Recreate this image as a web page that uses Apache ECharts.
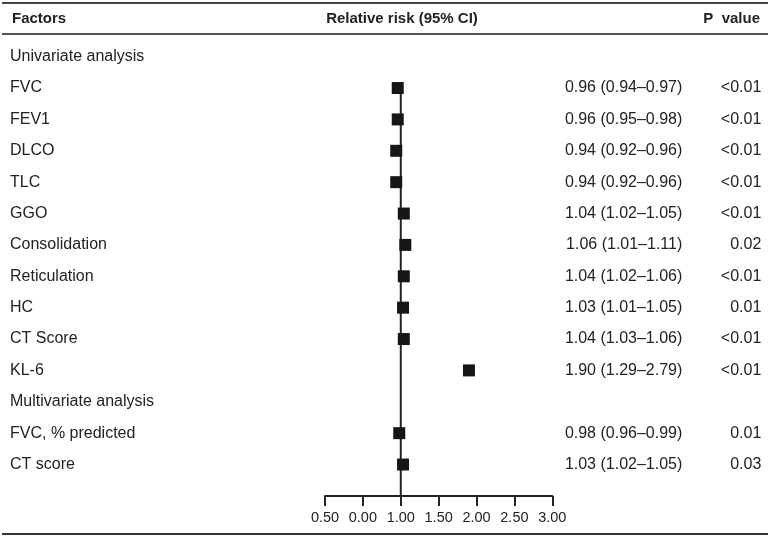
<!DOCTYPE html>
<html>
<head>
<meta charset="utf-8">
<script src="https://cdn.jsdelivr.net/npm/echarts@6/dist/echarts.min.js"></script>
<style>html,body{margin:0;padding:0;background:#fff}#c{width:768px;height:536px}</style>
</head>
<body>
<div id="c"></div>
<script>
var factors = ['Univariate analysis','FVC','FEV1','DLCO','TLC','GGO','Consolidation','Reticulation','HC','CT Score','KL-6','Multivariate analysis','FVC, % predicted','CT score'];
var rr = [null,0.96,0.96,0.94,0.94,1.04,1.06,1.04,1.03,1.04,1.90,null,0.98,1.03];
var ciLow = [null,0.94,0.95,0.92,0.92,1.02,1.01,1.02,1.01,1.03,1.29,null,0.96,1.02];
var ciHigh = [null,0.97,0.98,0.96,0.96,1.05,1.11,1.06,1.05,1.06,2.79,null,0.99,1.05];
var pValues = ['','<0.01','<0.01','<0.01','<0.01','<0.01','0.02','<0.01','0.01','<0.01','<0.01','','0.01','0.03'];
var xTickLabels = ['0.50','0.00','1.00','1.50','2.00','2.50','3.00'];
var refValue = 1;

var ciText = rr.map(function(v,i){
  return v == null ? '' : v.toFixed(2) + ' (' + ciLow[i].toFixed(2) + '\u2013' + ciHigh[i].toFixed(2) + ')';
});
var pts = [];
rr.forEach(function(v,i){ if(v != null) pts.push([v,i]); });
var firstRow = 1, lastRow = factors.length; // line runs down to the axis

var font = 'Liberation Sans, Arial, sans-serif';
var txt = '#222';
function rowFmt(arr){ return function(v){ var i = Math.round(v); return (i>=0 && i<arr.length) ? arr[i] : ''; }; }
function yAx(extra){
  var o = {type:'value', inverse:true, min:-1, max:factors.length, interval:1,
    axisLine:{show:false}, axisTick:{show:false}, splitLine:{show:false},
    axisLabel:{show:true, fontSize:16, fontFamily:font, color:txt}};
  for (var k in extra){ if(k==='axisLabel'){ for (var j in extra.axisLabel) o.axisLabel[j]=extra.axisLabel[j]; } else o[k]=extra[k]; }
  return o;
}
var chart = echarts.init(document.getElementById('c'));
chart.setOption({
  animation:false,
  grid:{left:325, width:227.3, top:25.3, height:470.6},
  xAxis:{type:'value', min:0, max:3, interval:0.5, position:'bottom',
    axisLine:{show:true, onZero:false, lineStyle:{color:'#222', width:2}},
    axisTick:{show:true, length:10, lineStyle:{color:'#222', width:2}},
    splitLine:{show:false},
    axisLabel:{fontSize:14.5, fontFamily:font, color:txt, margin:15,
      formatter:function(v){ return xTickLabels[Math.round(v/0.5)]; }}},
  yAxis:[
    yAx({position:'left', axisLabel:{align:'left', margin:315, formatter:rowFmt(factors)}}),
    yAx({position:'right', axisLabel:{align:'right', margin:130, formatter:rowFmt(ciText)}}),
    yAx({position:'right', axisLabel:{align:'right', margin:209, formatter:rowFmt(pValues)}})
  ],
  series:[
    {type:'line', data:[[refValue,firstRow],[refValue,lastRow]], symbol:'none',
     lineStyle:{color:'#222', width:2}, z:1},
    {type:'scatter', data:pts, symbol:'rect', symbolSize:12,
     itemStyle:{color:'#161616', opacity:1}, z:3}
  ],
  graphic:[
    {type:'line', shape:{x1:2,y1:3,x2:768,y2:3}, style:{stroke:'#444', lineWidth:2}},
    {type:'line', shape:{x1:2,y1:34,x2:768,y2:34}, style:{stroke:'#555', lineWidth:2}},
    {type:'line', shape:{x1:2,y1:534,x2:768,y2:534}, style:{stroke:'#333', lineWidth:2}},
    {type:'text', left:12, top:11, style:{text:'Factors', font:'bold 15px '+font, fill:txt}},
    {type:'text', x:402, y:19, style:{text:'Relative risk (95% CI)', font:'bold 15px '+font, fill:txt, align:'center', verticalAlign:'middle'}},
    {type:'text', x:760, y:19, style:{text:'P  value', font:'bold 15px '+font, fill:txt, align:'right', verticalAlign:'middle'}}
  ]
});
</script>
</body>
</html>
